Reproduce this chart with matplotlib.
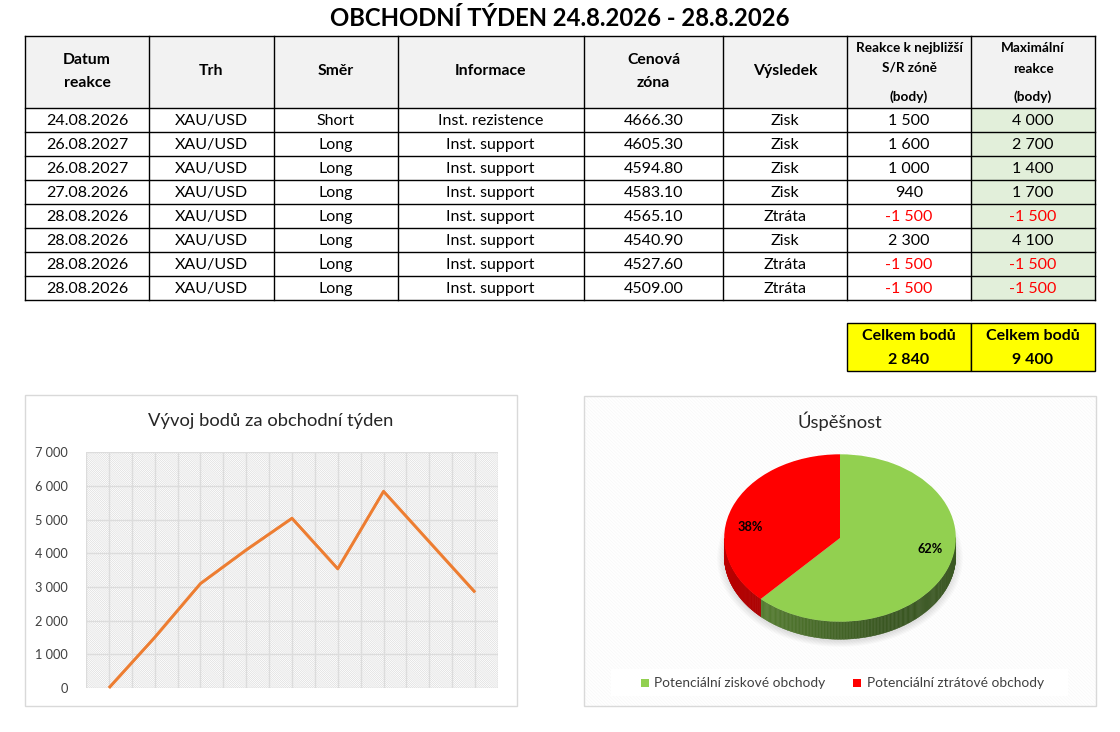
import numpy as np
import matplotlib
matplotlib.use("Agg")
import matplotlib.pyplot as plt
from matplotlib.patches import Rectangle, Polygon

plt.rcParams['font.family'] = ['Lato', 'DejaVu Sans']
plt.rcParams['hatch.linewidth'] = 0.35

# --- data -------------------------------------------------------------
title = "OBCHODNÍ TÝDEN 24.8.2026 - 28.8.2026"
headers = ["Datum\nreakce", "Trh", "Směr", "Informace", "Cenová\nzóna", "Výsledek",
           "Reakce k nejbližší\nS/R zóně\n(body)", "Maximální\nreakce\n(body)"]
dates = ["24.08.2026", "26.08.2027", "26.08.2027", "27.08.2026",
         "28.08.2026", "28.08.2026", "28.08.2026", "28.08.2026"]
markets = ["XAU/USD"] * 8
directions = ["Short", "Long", "Long", "Long", "Long", "Long", "Long", "Long"]
infos = ["Inst. rezistence"] + ["Inst. support"] * 7
zones = [4666.30, 4605.30, 4594.80, 4583.10, 4565.10, 4540.90, 4527.60, 4509.00]
results = ["Zisk", "Zisk", "Zisk", "Zisk", "Ztráta", "Zisk", "Ztráta", "Ztráta"]
reaction_pts = [1500, 1600, 1000, 940, -1500, 2300, -1500, -1500]
max_pts = [4000, 2700, 1400, 1700, -1500, 4100, -1500, -1500]

pie_labels = ["Potenciální ziskové obchody", "Potenciální ztrátové obchody"]
pie_values = [62, 38]
pie_colors = ["#92D050", "#FF0000"]
pie_side = [("#6A9A3C", "#3A5722"), ("#C00000", "#900000")]

line_title = "Vývoj bodů za obchodní týden"
pie_title = "Úspěšnost"


def fmt(v):
    return f"{v:,}".replace(",", " ")


W, H = 1120, 732
fig = plt.figure(figsize=(W / 100, H / 100), dpi=100)
ax0 = fig.add_axes([0, 0, 1, 1])
ax0.set_xlim(0, W)
ax0.set_ylim(H, 0)
ax0.axis("off")

# --- table ------------------------------------------------------------
ax0.text(560, 18, title, ha="center", va="center", fontsize=17.2, fontweight="bold")

col_x = [25, 149, 273.5, 397.5, 584, 723, 847, 971, 1095]
top, head_bot, row_h = 36, 108, 24
n_rows = len(dates)
bottom = head_bot + row_h * n_rows

ax0.add_patch(Rectangle((col_x[0], top), col_x[-1] - col_x[0], head_bot - top,
                        facecolor="#F2F2F2", edgecolor="none"))
ax0.add_patch(Rectangle((col_x[7], head_bot), col_x[8] - col_x[7], bottom - head_bot,
                        facecolor="#E2EFDA", edgecolor="none"))
for x in col_x:
    ax0.plot([x, x], [top, bottom], color="black", lw=1.0)
ax0.plot([col_x[0], col_x[-1]], [top, top], color="black", lw=1.0)
for r in range(n_rows + 1):
    y = head_bot + r * row_h
    ax0.plot([col_x[0], col_x[-1]], [y, y], color="black", lw=1.0)

for i, h in enumerate(headers):
    cx = (col_x[i] + col_x[i + 1]) / 2
    lines = h.split("\n")
    if i >= 6:
        ys = [48, 68, 97] if i == 6 else [48, 69, 97]
        for t, y in zip(lines, ys):
            ax0.text(cx, y, t, ha="center", va="center", fontsize=9.8, fontweight="bold")
    elif len(lines) == 2:
        for t, y in zip(lines, [60, 83]):
            ax0.text(cx, y, t, ha="center", va="center", fontsize=11.3, fontweight="bold")
    else:
        ax0.text(cx, 71, h, ha="center", va="center", fontsize=11.3, fontweight="bold")

for r in range(n_rows):
    y = head_bot + row_h * r + row_h / 2 + 1
    cells = [dates[r], markets[r], directions[r], infos[r], f"{zones[r]:.2f}",
             results[r], fmt(reaction_pts[r]), fmt(max_pts[r])]
    for c, t in enumerate(cells):
        cx = (col_x[c] + col_x[c + 1]) / 2
        color = "black"
        if c == 6 and reaction_pts[r] < 0:
            color = "#FF0000"
        if c == 7 and max_pts[r] < 0:
            color = "#FF0000"
        ax0.text(cx, y, t, ha="center", va="center", fontsize=11.5, color=color)

# totals
tot_top, tot_bot = 323, 371
for c, total in [(6, sum(reaction_pts)), (7, sum(max_pts))]:
    ax0.add_patch(Rectangle((col_x[c], tot_top), col_x[c + 1] - col_x[c], tot_bot - tot_top,
                            facecolor="#FFFF00", edgecolor="black", lw=1.0))
    cx = (col_x[c] + col_x[c + 1]) / 2
    ax0.text(cx, 336, "Celkem bodů", ha="center", va="center", fontsize=11.5, fontweight="bold")
    ax0.text(cx, 360, fmt(total), ha="center", va="center", fontsize=11.5, fontweight="bold")

# --- chart frames -----------------------------------------------------
ax0.add_patch(Rectangle((25, 395), 492, 311, facecolor="white", edgecolor="#D9D9D9", lw=1.0))
ax0.add_patch(Rectangle((584, 395.5), 512, 310.5, facecolor="white", edgecolor="none"))
ax0.add_patch(Rectangle((584, 395.5), 512, 310.5, facecolor="none", edgecolor="#F6F6F6",
                        hatch="\\" * 10, lw=0))
ax0.add_patch(Rectangle((584, 395.5), 512, 310.5, facecolor="none", edgecolor="#D9D9D9", lw=1.0))
ax0.text(271, 421, line_title, ha="center", va="center", fontsize=13.2, color="#262626")
ax0.text(840, 421, pie_title, ha="center", va="center", fontsize=13.2, color="#262626")

# --- line chart -------------------------------------------------------
cum = np.concatenate([[0], np.cumsum(reaction_pts)])
lx0, lx1, ly0, ly1 = 86, 498, 452.3, 688
ax1 = fig.add_axes([lx0 / W, (H - ly1) / H, (lx1 - lx0) / W, (ly1 - ly0) / H])
ax1.add_patch(Rectangle((0, 0), 1, 1, transform=ax1.transAxes, facecolor="white",
                        edgecolor="#D2D2D2", hatch="\\" * 16, lw=0, zorder=0))
ax1.set_xlim(-0.5, len(cum) - 0.5)
ax1.set_ylim(0, 7000)
ax1.set_yticks(np.arange(0, 7001, 1000))
ax1.set_yticklabels([fmt(int(v)) for v in np.arange(0, 7001, 1000)])
ax1.set_xticks(np.arange(-0.5, len(cum), 0.5))
ax1.grid(True, color="#DCDCDC", lw=1.0, zorder=1)
ax1.tick_params(axis="both", length=0, labelsize=9.2, labelcolor="#404040", pad=13)
ax1.tick_params(axis="x", labelbottom=False)
for s in ax1.spines.values():
    s.set_visible(False)
ax1.set_facecolor("none")
ax1.plot(np.arange(len(cum)), cum, color="#ED7D31", lw=2.2, zorder=3,
         solid_capstyle="butt", clip_on=False)

# --- 3D-looking pie ---------------------------------------------------
cx, cy, rx, ry = 840, 538, 115.8, 83.7
pa_l, pa_r, pa_t, pa_b = 700, 980, 428, 668
ax2 = fig.add_axes([pa_l / W, (H - pa_b) / H, (pa_r - pa_l) / W, (pa_b - pa_t) / H])
ax2.axis("off")
depth = 17.6 / ry

# soft shadow
for k in range(6):
    t = np.linspace(0, 2 * np.pi, 200)
    sc = 1.0 + 0.012 * k
    ax2.fill(sc * np.cos(t), sc * np.sin(t) - depth - 0.03, color="#000000",
             alpha=0.02, lw=0, zorder=0)

# side strips
fr = np.array(pie_values, float) / sum(pie_values)
bounds = 90 - 360 * np.concatenate([[0], np.cumsum(fr)])
for i in range(len(fr)):
    a_hi, a_lo = bounds[i], bounds[i + 1]
    angs = np.linspace(a_lo, a_hi, 300)
    ang_m = np.mod(angs, 360)
    c1 = np.array(matplotlib.colors.to_rgb(pie_side[i][0]))
    c2 = np.array(matplotlib.colors.to_rgb(pie_side[i][1]))
    for a1, a2, m1 in zip(angs[:-1], angs[1:], ang_m[:-1]):
        if not (180 <= m1 <= 360):
            continue
        frac = (m1 - 180) / 180
        col = c1 + (c2 - c1) * min(1, frac * 1.6)
        r1, r2 = np.radians(a1), np.radians(a2)
        pts = [(np.cos(r1), np.sin(r1)), (np.cos(r2), np.sin(r2)),
               (np.cos(r2), np.sin(r2) - depth), (np.cos(r1), np.sin(r1) - depth)]
        ax2.add_patch(Polygon(pts, closed=True, facecolor=col, edgecolor=col, lw=0.3, zorder=1))

wedges, _ = ax2.pie(pie_values, colors=pie_colors, startangle=90, counterclock=False,
                    radius=1.0, wedgeprops=dict(lw=0))
for w in wedges:
    w.set_zorder(2)
ax2.set_aspect("auto")
ax2.set_xlim(-(cx - pa_l) / rx, (pa_r - cx) / rx)
ax2.set_ylim(-(pa_b - cy) / ry, (cy - pa_t) / ry)

for i, v in enumerate(pie_values):
    mid = (bounds[i] + bounds[i + 1]) / 2 + 12
    r = np.radians(mid)
    ax2.text(0.79 * np.cos(r), 0.79 * np.sin(r), f"{v}%", ha="center", va="center",
             fontsize=9.2, fontweight="bold", zorder=4)

# legend
ax0.add_patch(Rectangle((611, 669), 457, 27, facecolor="white", edgecolor="none"))
leg = [(641, 654), (853, 867)]
for (mx, tx), lab, col in zip(leg, pie_labels, pie_colors):
    ax0.add_patch(Rectangle((mx, 678.5), 8, 8, facecolor=col, edgecolor="none"))
    ax0.text(tx, 683, lab, ha="left", va="center", fontsize=9.9, color="#404040")

fig.savefig("out.png", dpi=100)
